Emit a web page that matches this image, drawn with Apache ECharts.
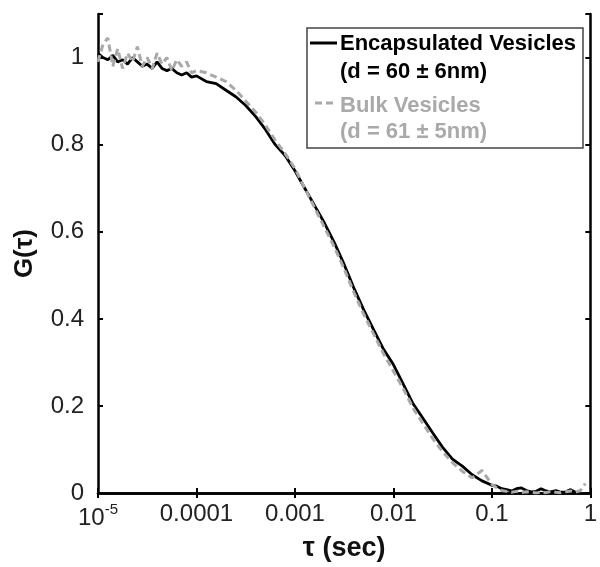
<!DOCTYPE html>
<html>
<head>
<meta charset="utf-8">
<script src="https://cdn.jsdelivr.net/npm/echarts@6/dist/echarts.min.js"></script>
<style>
  html, body { margin: 0; padding: 0; background: #fff; }
  #chart { width: 600px; height: 567px; }
</style>
</head>
<body>
<div id="chart"></div>
<script>
// lag time (sec)
var tau = [
  1.000e-5, 1.122e-5, 1.259e-5, 1.413e-5, 1.585e-5, 1.778e-5, 1.995e-5, 2.239e-5, 2.512e-5, 2.818e-5,
  3.162e-5, 3.548e-5, 3.981e-5, 4.467e-5, 5.012e-5, 5.623e-5, 6.310e-5, 7.079e-5, 7.943e-5, 8.913e-5,
  1.000e-4, 1.259e-4, 1.585e-4, 1.995e-4, 2.512e-4, 3.162e-4, 3.981e-4, 5.012e-4, 6.310e-4, 7.943e-4,
  1.000e-3, 1.259e-3, 1.585e-3, 1.995e-3, 2.512e-3, 3.162e-3, 3.981e-3, 5.012e-3, 6.310e-3, 7.943e-3,
  1.000e-2, 1.259e-2, 1.585e-2, 1.995e-2, 2.512e-2, 3.162e-2, 3.981e-2, 5.012e-2, 6.310e-2, 7.943e-2,
  0.1000, 0.1122, 0.1259, 0.1413, 0.1585, 0.1778, 0.1995, 0.2239, 0.2512, 0.2818,
  0.3162, 0.3548, 0.3981, 0.4467, 0.5012, 0.5623, 0.6310, 0.7079, 0.7943, 0.8913
];
// G(tau), encapsulated vesicles (black)
var gEncapsulated = [
  1.01, 1.00, 0.995, 1.005, 0.99, 0.995, 0.985, 1.0, 0.99, 0.98,
  0.985, 0.975, 0.99, 0.975, 0.97, 0.975, 0.965, 0.96, 0.965, 0.955,
  0.958, 0.945, 0.94, 0.925, 0.91, 0.89, 0.865, 0.835, 0.80, 0.775,
  0.74, 0.70, 0.66, 0.62, 0.575, 0.525, 0.47, 0.42, 0.375, 0.33,
  0.295, 0.25, 0.205, 0.172, 0.138, 0.105, 0.078, 0.062, 0.042, 0.028,
  0.018, 0.016, 0.01, 0.008, 0.005, 0.01, 0.012, 0.006, 0.003, 0.004,
  0.01, 0.005, 0.003, 0.006, 0.002, 0.003, 0.008, 0.002, null, null
];
// G(tau), bulk vesicles (grey dashed)
var gBulk = [
  0.99, 1.03, 1.045, 0.98, 1.02, 0.975, 1.01, 0.99, 1.025, 0.98,
  1.0, 0.975, 1.01, 0.985, 1.0, 0.97, 0.995, 0.98, 0.99, 0.965,
  0.97, 0.965, 0.955, 0.945, 0.925, 0.90, 0.875, 0.845, 0.81, 0.78,
  0.745, 0.70, 0.655, 0.61, 0.565, 0.515, 0.46, 0.41, 0.365, 0.32,
  0.28, 0.24, 0.195, 0.16, 0.125, 0.095, 0.07, 0.05, 0.035, 0.052,
  0.02, 0.012, 0.006, 0.004, 0.002, 0.004, 0.001, 0.003, 0.002, 0.0,
  0.003, 0.001, 0.004, 0.002, 0.001, 0.003, 0.005, 0.002, 0.006, 0.022
];
var yTicks = [0, 0.2, 0.4, 0.6, 0.8, 1];

var FONT = '"Liberation Sans", Arial, sans-serif';
var chart = echarts.init(document.getElementById('chart'));

function pairs(g) {
  return tau.map(function (t, i) { return [t, g[i]]; });
}

// x labels: 10^-5, 0.0001 ... 1
function xLabel(v) {
  var e = Math.round(Math.log10(v));
  if (e === -5) return '{b|10}{s|-5}';
  if (e === 0) return '1';
  return Math.pow(10, e).toFixed(-e);
}

var option = {
  animation: false,
  backgroundColor: '#fff',
  grid: { left: 98, right: 3, top: 14, bottom: 70 },
  xAxis: [
    {
      type: 'log', min: 1e-5, max: 1, logBase: 10,
      name: 'τ (sec)', nameLocation: 'middle', nameGap: 34,
      nameTextStyle: { fontFamily: FONT, fontSize: 27, fontWeight: 'bold', color: '#111' },
      axisLine: { lineStyle: { color: '#000', width: 2.5 } },
      axisTick: { inside: true, length: 5, lineStyle: { color: '#000', width: 2 } },
      minorTick: { show: false },
      splitLine: { show: false },
      axisLabel: {
        margin: 9, color: '#222', fontFamily: FONT, fontSize: 24,
        formatter: xLabel,
        rich: {
          b: { fontFamily: FONT, fontSize: 24, color: '#222' },
          s: { fontFamily: FONT, fontSize: 15, color: '#222', verticalAlign: 'top', lineHeight: 32 }
        }
      }
    },
    {
      type: 'log', min: 1e-5, max: 1, logBase: 10, position: 'top',
      axisLine: { lineStyle: { color: '#000', width: 2.5 } },
      axisTick: { inside: true, length: 5, lineStyle: { color: '#000', width: 2 } },
      axisLabel: { show: false },
      splitLine: { show: false }
    }
  ],
  yAxis: [
    {
      type: 'value', min: 0, max: 1.1, interval: 0.2,
      name: 'G(τ)', nameLocation: 'middle', nameGap: 60, nameRotate: 90,
      nameTextStyle: { fontFamily: FONT, fontSize: 26, fontWeight: 'bold', color: '#111' },
      axisLine: { show: true, lineStyle: { color: '#000', width: 2.5 } },
      axisTick: { show: true, inside: true, length: 5, lineStyle: { color: '#000', width: 2 } },
      splitLine: { show: false },
      axisLabel: {
        margin: 14, color: '#222', fontFamily: FONT, fontSize: 24,
        formatter: function (v) {
          return yTicks.some(function (t) { return Math.abs(t - v) < 1e-9; }) ? String(+v.toFixed(1)) : '';
        }
      }
    },
    {
      type: 'value', min: 0, max: 1.1, interval: 0.2, position: 'right',
      axisLine: { show: true, lineStyle: { color: '#000', width: 2.5 } },
      axisTick: { show: true, inside: true, length: 5, lineStyle: { color: '#000', width: 2 } },
      axisLabel: { show: false },
      splitLine: { show: false }
    }
  ],
  series: [
    {
      name: 'Encapsulated Vesicles', type: 'line', data: pairs(gEncapsulated),
      showSymbol: false, symbol: 'none', z: 2,
      lineStyle: { color: '#000', width: 2.8 }
    },
    {
      name: 'Bulk Vesicles', type: 'line', data: pairs(gBulk),
      showSymbol: false, symbol: 'none', z: 3,
      lineStyle: { color: '#a9a9a9', width: 3, type: [7, 4] }
    }
  ],
  graphic: [
    { type: 'rect', z: 10, shape: { x: 307, y: 28, width: 276, height: 120 },
      style: { fill: '#fff', stroke: '#444', lineWidth: 1.5 } },
    { type: 'line', z: 11, shape: { x1: 310, y1: 43, x2: 337, y2: 43 },
      style: { stroke: '#000', lineWidth: 3 } },
    { type: 'text', z: 11, style: { text: 'Encapsulated Vesicles', x: 340, y: 44, verticalAlign: 'middle',
      font: 'bold 22px ' + FONT, fill: '#000' } },
    { type: 'text', z: 11, style: { text: '(d = 60 ± 6nm)', x: 340, y: 72, verticalAlign: 'middle',
      font: 'bold 22px ' + FONT, fill: '#000' } },
    { type: 'line', z: 11, shape: { x1: 315, y1: 103, x2: 337, y2: 103 },
      style: { stroke: '#a9a9a9', lineWidth: 3, lineDash: [7, 4] } },
    { type: 'text', z: 11, style: { text: 'Bulk Vesicles', x: 340, y: 106, verticalAlign: 'middle',
      font: 'bold 22px ' + FONT, fill: '#a9a9a9' } },
    { type: 'text', z: 11, style: { text: '(d = 61 ± 5nm)', x: 340, y: 132, verticalAlign: 'middle',
      font: 'bold 22px ' + FONT, fill: '#a9a9a9' } }
  ]
};

chart.setOption(option);
</script>
</body>
</html>
